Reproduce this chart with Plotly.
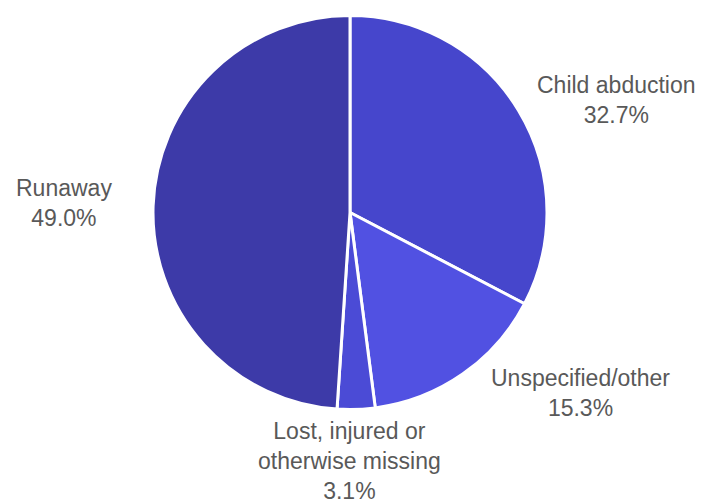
import plotly.graph_objects as go

labels = ["Child abduction", "Unspecified/other", "Lost, injured or<br>otherwise missing", "Runaway"]
values = [32.7, 15.3, 3.1, 49.0]
colors = ["#4646cc", "#5151e2", "#4b4bd6", "#3d3aa8"]
label_x = [0.876, 0.825, 0.497, 0.091]
label_y = [0.800, 0.213, 0.076, 0.593]

fig = go.Figure(go.Pie(
    labels=labels, values=values, sort=False, direction="clockwise", rotation=0,
    marker=dict(colors=colors, line=dict(color="white", width=3)),
    textinfo="none", hoverinfo="label+percent",
    domain=dict(x=[153/704, 547/704], y=[1-410/499, 1-15/499]),
    showlegend=False,
))

for lab, v, x, y in zip(labels, values, label_x, label_y):
    fig.add_annotation(x=x, y=y, xref="paper", yref="paper", text=f"{lab}<br>{v:.1f}%",
                       showarrow=False, xanchor="center", yanchor="middle", align="center",
                       font=dict(family="Liberation Sans, Arial", size=23, color="#595959"))

fig.update_layout(width=704, height=499, margin=dict(l=0, r=0, t=0, b=0),
                  paper_bgcolor="white", plot_bgcolor="white")
fig.write_html("out.html")
